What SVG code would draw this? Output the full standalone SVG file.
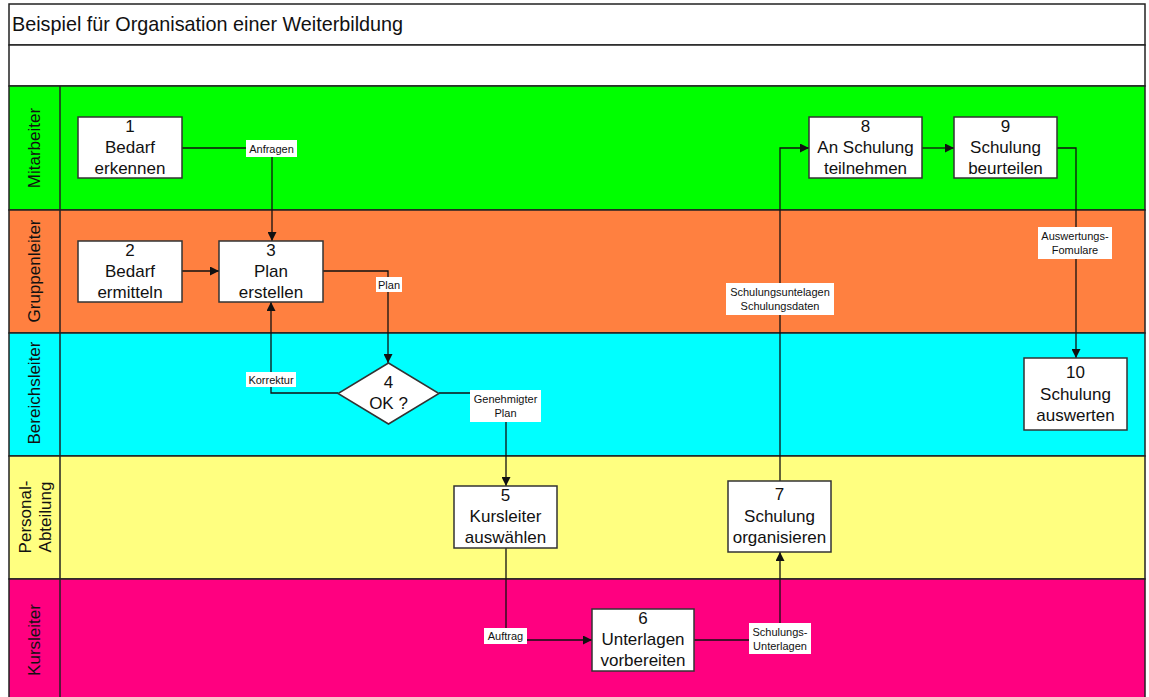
<svg xmlns="http://www.w3.org/2000/svg" width="1149" height="697" viewBox="0 0 1149 697">
<defs>
<style>
.lane{stroke:#222;stroke-width:1.5}
.node{fill:#fff;stroke:#333;stroke-width:1.5}
.nt{font-family:"Liberation Sans",Arial,sans-serif;font-size:17px;fill:#111;text-anchor:middle}
.lt{font-family:"Liberation Sans",Arial,sans-serif;font-size:17px;fill:#111;text-anchor:middle}
.cl{font-family:"Liberation Sans",Arial,sans-serif;font-size:11px;fill:#111;text-anchor:middle}
.lb{fill:#fff}
.edge{fill:none;stroke:#111;stroke-width:1.3}
</style>
<marker id="arr" viewBox="0 0 10 10" refX="10" refY="5" markerWidth="9" markerHeight="9" markerUnits="userSpaceOnUse" orient="auto">
<path d="M0,0 L10,5 L0,10 z" fill="#111"/>
</marker>
</defs>
<rect x="0" y="0" width="1149" height="697" fill="#fff"/>
<g id="frame">
<rect x="9" y="4" width="1136" height="41" fill="#fff" class="lane"/>
<text x="12" y="31" font-family="'Liberation Sans',Arial,sans-serif" font-size="19.8" fill="#111">Beispiel für Organisation einer Weiterbildung</text>
<rect x="9" y="45" width="1136" height="41" fill="#fff" class="lane"/>
</g>
<g id="lanes">
<g id="lane-mitarbeiter">
<rect x="9" y="86" width="1136" height="124" fill="#00FF00" class="lane"/>
<line x1="60" y1="86" x2="60" y2="210" class="lane"/>
<text class="lt" transform="translate(40,148) rotate(-90)">Mitarbeiter</text>
</g>
<g id="lane-gruppenleiter">
<rect x="9" y="210" width="1136" height="123" fill="#FF8040" class="lane"/>
<line x1="60" y1="210" x2="60" y2="333" class="lane"/>
<text class="lt" transform="translate(40,271) rotate(-90)">Gruppenleiter</text>
</g>
<g id="lane-bereichsleiter">
<rect x="9" y="333" width="1136" height="123" fill="#00FFFF" class="lane"/>
<line x1="60" y1="333" x2="60" y2="456" class="lane"/>
<text class="lt" transform="translate(40,393) rotate(-90)">Bereichsleiter</text>
</g>
<g id="lane-personal">
<rect x="9" y="456" width="1136" height="123" fill="#FFFF80" class="lane"/>
<line x1="60" y1="456" x2="60" y2="579" class="lane"/>
<text class="lt" transform="translate(31,517) rotate(-90)">Personal-</text>
<text class="lt" transform="translate(51,517) rotate(-90)">Abteilung</text>
</g>
<g id="lane-kursleiter">
<rect x="9" y="579" width="1136" height="125" fill="#FF0080" class="lane"/>
<line x1="60" y1="579" x2="60" y2="697" class="lane"/>
<text class="lt" transform="translate(40,640) rotate(-90)">Kursleiter</text>
</g>
</g>
<g id="connectors">
<polyline class="edge" points="182,148 272,148 272,241" marker-end="url(#arr)"/>
<line class="edge" x1="182" y1="271" x2="219" y2="271" marker-end="url(#arr)"/>
<polyline class="edge" points="323,271 388,271 388,363" marker-end="url(#arr)"/>
<polyline class="edge" points="338,393 271,393 271,302" marker-end="url(#arr)"/>
<polyline class="edge" points="439,393 506,393 506,486" marker-end="url(#arr)"/>
<polyline class="edge" points="506,548 506,640 592,640" marker-end="url(#arr)"/>
<polyline class="edge" points="694,640 780,640 780,552" marker-end="url(#arr)"/>
<polyline class="edge" points="780,481 780,148 809,148" marker-end="url(#arr)"/>
<line class="edge" x1="922" y1="148" x2="954" y2="148" marker-end="url(#arr)"/>
<polyline class="edge" points="1057,148 1076,148 1076,358" marker-end="url(#arr)"/>
<g id="labels">
<rect class="lb" x="246" y="140" width="51" height="17"/>
<text class="cl" x="271.5" y="152.5">Anfragen</text>
<rect class="lb" x="376" y="277" width="26" height="15"/>
<text class="cl" x="389" y="288.5">Plan</text>
<rect class="lb" x="246" y="372" width="50" height="15"/>
<text class="cl" x="271" y="383.5">Korrektur</text>
<rect class="lb" x="470" y="390" width="71" height="32"/>
<text class="cl" x="505.5" y="403">Genehmigter</text>
<text class="cl" x="505.5" y="417">Plan</text>
<rect class="lb" x="484" y="628" width="43" height="16"/>
<text class="cl" x="505.5" y="640">Auftrag</text>
<rect class="lb" x="749" y="623" width="62" height="31"/>
<text class="cl" x="780" y="636">Schulungs-</text>
<text class="cl" x="780" y="650">Unterlagen</text>
<rect class="lb" x="726" y="283" width="108" height="32"/>
<text class="cl" x="780" y="296">Schulungsuntelagen</text>
<text class="cl" x="780" y="310">Schulungsdaten</text>
<rect class="lb" x="1038" y="227" width="74" height="32"/>
<text class="cl" x="1075" y="240">Auswertungs-</text>
<text class="cl" x="1075" y="254">Fomulare</text>
</g>
</g>
<g id="node1">
<rect class="node" x="78" y="117" width="104" height="61"/>
<text class="nt" x="130" y="132">1</text>
<text class="nt" x="130" y="153">Bedarf</text>
<text class="nt" x="130" y="174">erkennen</text>
</g>
<g id="node2">
<rect class="node" x="78" y="241" width="104" height="61"/>
<text class="nt" x="130" y="256">2</text>
<text class="nt" x="130" y="277">Bedarf</text>
<text class="nt" x="130" y="298">ermitteln</text>
</g>
<g id="node3">
<rect class="node" x="219" y="241" width="104" height="61"/>
<text class="nt" x="271" y="256">3</text>
<text class="nt" x="271" y="277">Plan</text>
<text class="nt" x="271" y="298">erstellen</text>
</g>
<g id="node4">
<polygon class="node" points="388.5,363 439,393.5 388.5,424 338,393.5"/>
<text class="nt" x="388.5" y="388">4</text>
<text class="nt" x="388.5" y="409">OK ?</text>
</g>
<g id="node5">
<rect class="node" x="454" y="486" width="103" height="62"/>
<text class="nt" x="505.5" y="501">5</text>
<text class="nt" x="505.5" y="522">Kursleiter</text>
<text class="nt" x="505.5" y="543">auswählen</text>
</g>
<g id="node6">
<rect class="node" x="592" y="609" width="102" height="62"/>
<text class="nt" x="643" y="624">6</text>
<text class="nt" x="643" y="645">Unterlagen</text>
<text class="nt" x="643" y="666">vorbereiten</text>
</g>
<g id="node7">
<rect class="node" x="728" y="481" width="103" height="71"/>
<text class="nt" x="779.5" y="500">7</text>
<text class="nt" x="779.5" y="522">Schulung</text>
<text class="nt" x="779.5" y="543">organisieren</text>
</g>
<g id="node8">
<rect class="node" x="809" y="117" width="113" height="61"/>
<text class="nt" x="865.5" y="132">8</text>
<text class="nt" x="865.5" y="153">An Schulung</text>
<text class="nt" x="865.5" y="174">teilnehmen</text>
</g>
<g id="node9">
<rect class="node" x="954" y="117" width="103" height="61"/>
<text class="nt" x="1005.5" y="132">9</text>
<text class="nt" x="1005.5" y="153">Schulung</text>
<text class="nt" x="1005.5" y="174">beurteilen</text>
</g>
<g id="node10">
<rect class="node" x="1024" y="358" width="103" height="72"/>
<text class="nt" x="1075.5" y="378">10</text>
<text class="nt" x="1075.5" y="400">Schulung</text>
<text class="nt" x="1075.5" y="421">auswerten</text>
</g>
</svg>
